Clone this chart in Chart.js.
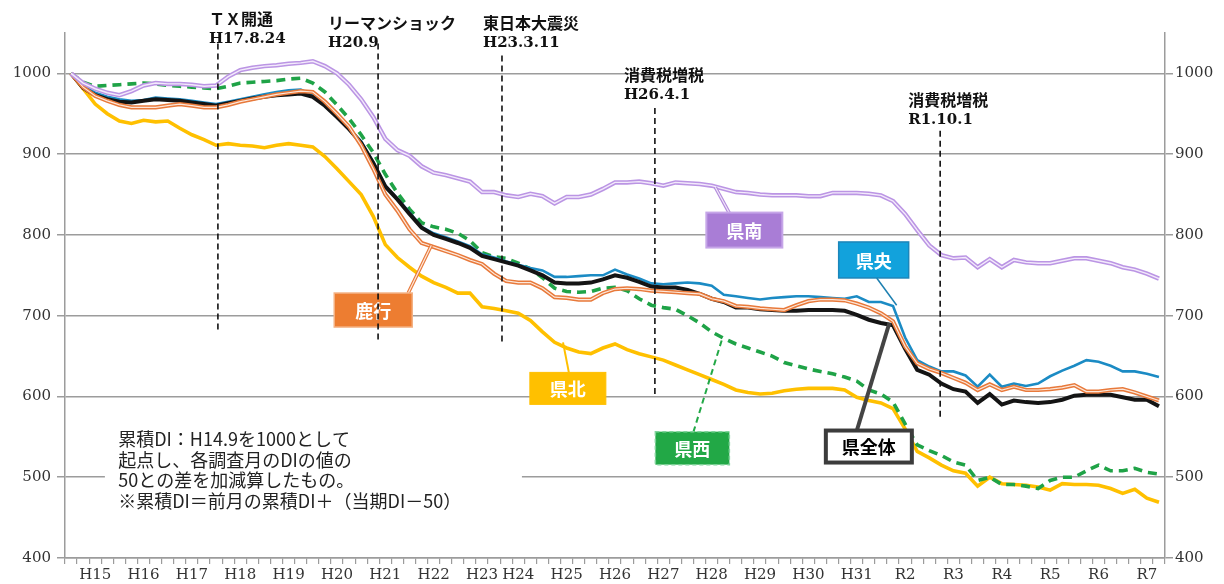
<!DOCTYPE html>
<html lang="ja">
<head>
<meta charset="utf-8">
<title>累積DIの推移</title>
<script src="https://cdn.jsdelivr.net/npm/chart.js@4.4.1/dist/chart.umd.min.js"></script>
<style>
  html, body { margin: 0; padding: 0; background: #fff; }
  #wrap { width: 1224px; height: 584px; }
</style>
</head>
<body>
<div id="wrap"><canvas id="diChart" width="1224" height="584"></canvas></div>
<script>
// 累積DI, quarterly from H14.9 (=1000)
const yearTicks = ['H15', 'H16', 'H17', 'H18', 'H19', 'H20', 'H21', 'H22', 'H23', 'H24', 'H25', 'H26',
  'H27', 'H28', 'H29', 'H30', 'H31', 'R2', 'R3', 'R4', 'R5', 'R6', 'R7'];
const yearTickPos = [2, 6, 10, 14, 18, 22, 26, 30, 34, 37, 41, 45, 49, 53, 57, 61, 65, 69, 73, 77, 81, 85, 89];

const kenpoku = [1000, 981, 962, 950, 941, 938, 942, 940, 941, 932,
  924, 918, 911, 913, 911, 910, 908, 911, 913, 911,
  909, 897, 882, 866, 850, 823, 788, 772, 760, 749,
  741, 735, 728, 728, 711, 709, 706, 703, 694, 680,
  667, 660, 655, 653, 660, 665, 658, 653, 649, 645,
  639, 633, 627, 621, 615, 608, 605, 603, 604, 607,
  609, 610, 610, 610, 608, 599, 595, 592, 585, 560,
  532, 524, 515, 508, 505, 489, 500, 492, 491, 490,
  488, 484, 492, 491, 491, 490, 486, 480, 485, 474,
  469];

const kennan = [1000, 988, 981, 976, 973, 978, 985, 988, 987, 987,
  986, 984, 985, 996, 1004, 1007, 1009, 1010, 1012, 1013,
  1015, 1009, 1000, 986, 968, 946, 919, 905, 898, 885,
  877, 874, 870, 866, 853, 853, 849, 847, 851, 848,
  839, 847, 847, 850, 857, 865, 865, 866, 864, 861,
  865, 864, 863, 861, 857, 853, 852, 850, 849, 849,
  849, 848, 848, 852, 852, 852, 851, 849, 842, 826,
  806, 787, 775, 771, 772, 760, 770, 760, 769, 766,
  765, 765, 768, 771, 771, 768, 765, 760, 757, 752,
  746];

const kensei = [1000, 989, 984, 985, 986, 987, 988, 987, 985, 984,
  983, 982, 981, 984, 988, 989, 990, 991, 993, 994,
  988, 977, 961, 944, 924, 902, 875, 852, 832, 815,
  810, 807, 802, 793, 778, 773, 771, 765, 758, 747,
  734, 730, 729, 730, 734, 735, 731, 721, 713, 710,
  708, 700, 691, 680, 672, 665, 660, 655, 650, 642,
  638, 634, 631, 628, 624, 619, 608, 603, 593, 566,
  540, 533, 527, 519, 515, 496, 500, 491, 491, 489,
  486, 496, 500, 500, 508, 515, 508, 508, 511, 506,
  504];

const kenou = [1000, 984, 976, 971, 968, 966, 967, 970, 969, 968,
  966, 964, 962, 965, 968, 971, 974, 977, 979, 980,
  973, 961, 947, 932, 916, 890, 861, 845, 828, 810,
  802, 797, 792, 786, 776, 772, 767, 763, 759, 756,
  748, 748, 749, 750, 750, 757, 751, 746, 740, 739,
  740, 741, 740, 737, 726, 724, 722, 720, 722, 723,
  724, 724, 723, 722, 721, 724, 717, 717, 712, 673,
  645, 637, 631, 631, 626, 612, 627, 612, 616, 613,
  616, 625, 632, 638, 645, 643, 638, 631, 631, 628,
  624];

const kenzentai = [1000, 982, 973, 968, 965, 964, 966, 968, 967, 966,
  964, 962, 960, 963, 966, 969, 971, 973, 974, 975,
  971, 960, 946, 931, 914, 889, 860, 844, 826, 809,
  800, 795, 790, 784, 774, 770, 766, 762, 756, 750,
  741, 740, 740, 741, 745, 750, 747, 742, 736, 735,
  735, 732, 727, 721, 717, 710, 710, 708, 707, 706,
  706, 707, 707, 707, 706, 701, 695, 691, 688, 659,
  633, 627, 616, 609, 606, 592, 603, 590, 595, 593,
  592, 593, 596, 601, 602, 602, 602, 599, 596, 596,
  588];

const rokko = [1000, 983, 972, 966, 961, 958, 958, 958, 960, 962,
  960, 958, 958, 961, 965, 968, 971, 974, 976, 978,
  977, 965, 950, 934, 911, 882, 850, 830, 807, 790,
  785, 780, 775, 769, 764, 752, 743, 741, 741, 734,
  723, 722, 720, 720, 728, 733, 734, 733, 731, 730,
  729, 728, 727, 721, 718, 712, 711, 709, 708, 707,
  713, 718, 720, 720, 719, 715, 710, 703, 693, 662,
  641, 634, 629, 623, 617, 608, 615, 608, 612, 608,
  608, 609, 611, 614, 606, 606, 608, 609, 605, 600,
  595];

const quarterLabels = kenzentai.map(() => '');
yearTickPos.forEach((p, i) => { quarterLabels[p] = yearTicks[i]; });

// event markers (x in quarter index units)
const events = [
  { name: 'ＴＸ開通', date: 'H17.8.24', at: 12.15, from: 1037, to: 678, dx: -9, ty: 21 },
  { name: 'リーマンショック', date: 'H20.9', at: 25.4, from: 1037, to: 670, dx: -50, ty: 25 },
  { name: '東日本大震災', date: 'H23.3.11', at: 35.65, from: 1022, to: 666, dx: -19, ty: 25 },
  { name: '消費税増税', date: 'H26.4.1', at: 48.3, from: 957, to: 599, dx: -31, ty: 77 },
  { name: '消費税増税', date: 'R1.10.1', at: 71.9, from: 929, to: 573, dx: -32, ty: 102 }
];

const callouts = [
  { text: '鹿行', at: 25.0, val: 707, w: 78, h: 34, sx: 35, sy: -17, tipAt: 29.8, tipVal: 787,
    fill: '#ED7D31', border: '#F4B183', bw: 1.5, color: '#fff', lead: '#E8793A', leadW: 3.5, inner: '#FDE9DD' },
  { text: '県北', at: 41.1, val: 610, w: 76, h: 32, sx: 1, sy: -16, tipAt: 40.7, tipVal: 667,
    fill: '#FFC000', border: '#FFC000', bw: 1, color: '#fff', lead: '#FFC000', leadW: 2 },
  { text: '県南', at: 55.7, val: 806, w: 76, h: 35, sx: -15, sy: -17, tipAt: 53.3, tipVal: 859,
    fill: '#A97DD6', border: '#C6A6E8', bw: 2, color: '#fff', lead: '#B48CDC', leadW: 3.5, inner: '#F1E8FA' },
  { text: '県央', at: 66.4, val: 769, w: 70, h: 36, sx: 3, sy: 18, tipAt: 68.3, tipVal: 713,
    fill: '#12A2DC', border: '#1C86BA', bw: 1.5, color: '#fff', lead: '#1C7FB0', leadW: 1.5 },
  { text: '県西', at: 51.4, val: 536, w: 74, h: 33, sx: 1, sy: -16, tipAt: 53.9, tipVal: 673,
    fill: '#22A846', border: '#7FD39A', bw: 1.5, dash: [4, 3], color: '#fff', lead: '#22A846', leadW: 2, leadDash: [6, 4] },
  { text: '県全体', at: 66.0, val: 538, w: 86, h: 32, sx: -12, sy: -16, tipAt: 67.7, tipVal: 691,
    fill: '#fff', border: '#3c3c3c', bw: 4, color: '#000', lead: '#444', leadW: 4 }
];

const noteLines = [
  '累積DI：H14.9を1000として',
  '起点し、各調査月のDIの値の',
  '50との差を加減算したもの。',
  '※累積DI＝前月の累積DI＋（当期DI－50）'
];

const overlayPlugin = {
  id: 'overlay',
  afterDatasetsDraw(chart) {
    const { ctx, scales: { x, y } } = chart;
    ctx.save();

    // note box on the 500 grid line
    const nl = x.getPixelForValue(2.8), nr = x.getPixelForValue(37.3);
    const nt = y.getPixelForValue(564), nb = y.getPixelForValue(457);
    ctx.fillStyle = '#fff';
    ctx.fillRect(nl, nt, nr - nl, nb - nt);
    ctx.fillStyle = '#222';
    ctx.font = '18px "Noto Sans CJK JP"';
    ctx.textBaseline = 'middle';
    ctx.textAlign = 'left';
    noteLines.forEach((t, i) => ctx.fillText(t, x.getPixelForValue(3.9), nt + 14 + i * 20.5));

    // callouts: leader lines first, then boxes
    callouts.forEach(c => {
      const cx = x.getPixelForValue(c.at), cy = y.getPixelForValue(c.val);
      const tx = x.getPixelForValue(c.tipAt), ty = y.getPixelForValue(c.tipVal);
      ctx.beginPath();
      ctx.moveTo(cx + c.sx, cy + c.sy);
      ctx.lineTo(tx, ty);
      ctx.strokeStyle = c.lead;
      ctx.lineWidth = c.leadW;
      ctx.setLineDash(c.leadDash || []);
      ctx.stroke();
      if (c.inner) {
        ctx.strokeStyle = c.inner;
        ctx.lineWidth = 1.2;
        ctx.stroke();
      }
      ctx.setLineDash([]);
    });
    callouts.forEach(c => {
      const cx = x.getPixelForValue(c.at), cy = y.getPixelForValue(c.val);
      ctx.fillStyle = c.fill;
      ctx.fillRect(cx - c.w / 2, cy - c.h / 2, c.w, c.h);
      ctx.strokeStyle = c.border;
      ctx.lineWidth = c.bw;
      ctx.setLineDash(c.dash || []);
      ctx.strokeRect(cx - c.w / 2, cy - c.h / 2, c.w, c.h);
      ctx.setLineDash([]);
      ctx.fillStyle = c.color;
      ctx.font = 'bold 18px "Noto Sans CJK JP"';
      ctx.textAlign = 'center';
      ctx.fillText(c.text, cx, cy + 1);
    });

    // event lines
    events.forEach(e => {
      const ex = x.getPixelForValue(e.at);
      ctx.beginPath();
      ctx.moveTo(ex, y.getPixelForValue(e.from));
      ctx.lineTo(ex, y.getPixelForValue(e.to));
      ctx.strokeStyle = '#111';
      ctx.lineWidth = 1.6;
      ctx.setLineDash([6, 4]);
      ctx.stroke();
      ctx.setLineDash([]);
      ctx.fillStyle = '#111';
      ctx.textAlign = 'left';
      ctx.font = 'bold 16px "DejaVu Serif", "Noto Sans CJK JP"';
      ctx.fillText(e.name, ex + e.dx, e.ty);
      ctx.font = 'bold 15px "DejaVu Serif"';
      ctx.fillText(e.date, ex + e.dx, e.ty + 18);
    });
    ctx.restore();
  }
};

function line(label, data, color, width, order, extra) {
  return Object.assign({
    label: label,
    data: data,
    borderColor: color,
    borderWidth: width,
    pointRadius: 0,
    fill: false,
    tension: 0,
    order: order
  }, extra || {});
}

const ctx = document.getElementById('diChart').getContext('2d');
const grey = '#9c9c9c';
const tickFont = { family: '"DejaVu Serif"', size: 15 };
const plainNumber = v => String(v);

new Chart(ctx, {
  type: 'line',
  data: {
    labels: quarterLabels,
    datasets: [
      line('県南', kennan, '#F3EAFB', 1.4, 1),
      line('県南', kennan, '#BB95E4', 4.5, 2),
      line('鹿行', rokko, '#FCE7DA', 1.2, 3),
      line('鹿行', rokko, '#E8793A', 4.2, 4),
      line('県全体', kenzentai, '#141414', 4, 5),
      line('県央', kenou, '#1B8BC4', 2.6, 6),
      line('県西', kensei, '#1FA347', 3.6, 7, { borderDash: [9, 6] }),
      line('県北', kenpoku, '#FFC000', 3.6, 8)
    ]
  },
  options: {
    responsive: false,
    animation: false,
    devicePixelRatio: 1,
    layout: { padding: { top: 33, left: 0, right: 0, bottom: 0 } },
    plugins: {
      legend: { display: false },
      tooltip: { enabled: false }
    },
    scales: {
      x: {
        type: 'category',
        offset: true,
        border: { display: true, color: grey, width: 1.5 },
        grid: { display: true, drawOnChartArea: false, drawTicks: true, tickLength: 6, offset: true, color: grey, lineWidth: 1.2 },
        ticks: { autoSkip: false, maxRotation: 0, minRotation: 0, padding: 2, color: '#333', font: tickFont },
        afterFit: s => { s.height = 26; }
      },
      y: {
        position: 'left',
        min: 400,
        max: 1050,
        border: { display: true, color: grey, width: 1.5 },
        grid: { color: grey, lineWidth: 1.5, tickLength: 8 },
        ticks: { stepSize: 100, padding: 6, color: '#333', font: tickFont, callback: plainNumber },
        afterBuildTicks: s => { s.ticks = s.ticks.filter(t => t.value <= 1000); },
        afterFit: s => { s.width = 65; }
      },
      y2: {
        position: 'right',
        min: 400,
        max: 1050,
        border: { display: true, color: grey, width: 1.5 },
        grid: { drawOnChartArea: false, color: grey, lineWidth: 1.5, tickLength: 8 },
        ticks: { stepSize: 100, padding: 2, color: '#333', font: tickFont, callback: plainNumber },
        afterBuildTicks: s => { s.ticks = s.ticks.filter(t => t.value <= 1000); },
        afterFit: s => { s.width = 59; }
      }
    }
  },
  plugins: [overlayPlugin]
});
</script>
</body>
</html>
